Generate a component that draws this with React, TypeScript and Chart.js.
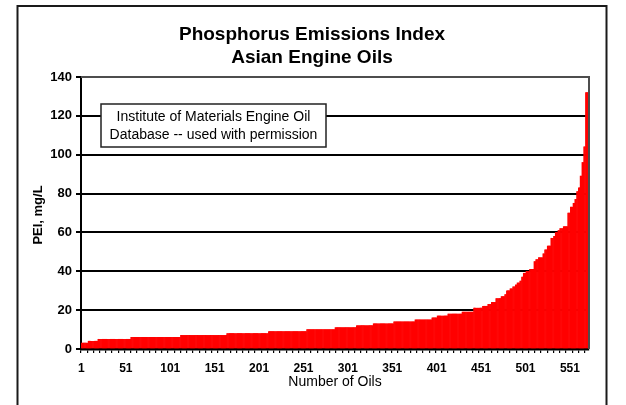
import React, { useEffect, useRef } from 'react';
import { Chart, registerables } from 'chart.js';

Chart.register(...registerables);

const FONT = '"Liberation Sans", Arial, Helvetica, sans-serif';

const titleLines = ['Phosphorus Emissions Index', 'Asian Engine Oils'];
const noteLines = ['Institute of Materials Engine Oil', 'Database -- used with permission'];
const xAxisTitle = 'Number of Oils';
const yAxisTitle = 'PEI, mg/L';

const peiLevels = [
  3, 4, 5, 6, 7, 8, 9, 10, 11, 12, 13, 14, 15, 16, 17, 18, 19,
  21, 22, 23, 24, 26, 27, 28, 30, 31, 32, 33, 34, 35, 37, 39, 40, 41,
  45, 46, 47, 49, 51, 53, 57, 58, 60, 61, 62, 63,
  70, 73, 75, 77, 81, 83, 89, 96, 104, 132,
];
const peiCounts = [
  8, 11, 37, 56, 52, 47, 43, 32, 24, 19, 23, 24, 19, 6, 12, 16, 13,
  10, 6, 4, 5, 6, 4, 2, 4, 3, 3, 2, 3, 2, 2, 3, 4, 5,
  2, 3, 5, 2, 3, 4, 3, 2, 3, 2, 4, 5,
  3, 3, 2, 2, 2, 2, 2, 2, 2, 4,
];

const yMin = 0;
const yMax = 140;
const yStep = 20;
const labelEvery = 50;
const tickEvery = 7;

const peiValues: number[] = [];
peiLevels.forEach((v, i) => {
  for (let k = 0; k < peiCounts[i]; k++) peiValues.push(v);
});
const oilLabels = peiValues.map((_, i) => String(i + 1));

const decorPlugin = {
  id: 'decor',
  beforeDraw(chart: any) {
    const ctx = chart.ctx;
    ctx.save();
    ctx.fillStyle = '#ffffff';
    ctx.fillRect(0, 0, chart.width, chart.height);
    ctx.strokeStyle = '#1a1a1a';
    ctx.lineWidth = 2;
    ctx.strokeRect(17.5, 6, 589, 470);
    ctx.restore();
  },
  afterDraw(chart: any) {
    const ctx = chart.ctx;
    const a = chart.chartArea;
    ctx.save();
    // top and right frame of plot area
    ctx.strokeStyle = '#4d4d4d';
    ctx.lineWidth = 2;
    ctx.beginPath();
    ctx.moveTo(a.left, a.top);
    ctx.lineTo(a.right, a.top);
    ctx.lineTo(a.right, a.bottom);
    ctx.stroke();

    // chart title
    ctx.fillStyle = '#000';
    ctx.textAlign = 'center';
    ctx.textBaseline = 'alphabetic';
    ctx.font = `bold 19px ${FONT}`;
    ctx.fillText(titleLines[0], 312, 39.5);
    ctx.fillText(titleLines[1], 312, 63);

    // note box
    ctx.fillStyle = '#fff';
    ctx.fillRect(101, 104, 225, 43);
    ctx.strokeStyle = '#222';
    ctx.lineWidth = 1.5;
    ctx.strokeRect(101, 104, 225, 43);
    ctx.fillStyle = '#000';
    ctx.font = `14px ${FONT}`;
    ctx.fillText(noteLines[0], 213.5, 121);
    ctx.fillText(noteLines[1], 213.5, 139);

    // axis titles
    ctx.font = `14px ${FONT}`;
    ctx.fillText(xAxisTitle, (a.left + a.right) / 2, 386);
    ctx.save();
    ctx.translate(42, 215);
    ctx.rotate(-Math.PI / 2);
    ctx.font = `bold 13px ${FONT}`;
    ctx.fillText(yAxisTitle, 0, 0);
    ctx.restore();
    ctx.restore();
  },
};

export default function App() {
  const ref = useRef<HTMLCanvasElement | null>(null);

  useEffect(() => {
    if (!ref.current) return;
    const chart = new Chart(ref.current, {
      type: 'bar',
      data: {
        labels: oilLabels,
        datasets: [
          {
            data: peiValues,
            backgroundColor: '#ff0000',
            borderWidth: 0,
            barPercentage: 1,
            categoryPercentage: 1,
          },
        ],
      },
      options: {
        animation: false,
        responsive: false,
        devicePixelRatio: 1,
        layout: { padding: { left: 0, right: 37, top: 77, bottom: 0 } },
        plugins: {
          legend: { display: false },
          tooltip: { enabled: false },
          title: { display: false },
        },
        scales: {
          x: {
            type: 'category',
            z: 1,
            offset: true,
            afterFit: (s: any) => {
              s.height = 56;
            },
            border: { display: true, color: '#000', width: 2.5 },
            grid: {
              offset: true,
              drawOnChartArea: false,
              drawTicks: true,
              tickLength: 4,
              lineWidth: 1.2,
              color: (c: any) => (c.index % tickEvery === 0 ? '#000' : 'rgba(0,0,0,0)'),
            },
            ticks: {
              autoSkip: false,
              maxRotation: 0,
              minRotation: 0,
              padding: 8,
              color: '#000',
              font: { family: FONT, size: 12, weight: 'bold' },
              callback: (_v: any, i: number) => (i % labelEvery === 0 ? oilLabels[i] : ''),
            },
          },
          y: {
            min: yMin,
            max: yMax,
            afterFit: (s: any) => {
              s.width = 81;
            },
            border: { display: true, color: '#000', width: 2 },
            grid: {
              color: (c: any) => (c.tick && c.tick.value === yMax ? 'rgba(0,0,0,0)' : '#000'),
              lineWidth: 2,
              tickLength: 5,
              tickColor: '#000',
            },
            ticks: {
              stepSize: yStep,
              padding: 4,
              color: '#000',
              font: { family: FONT, size: 13, weight: 'bold' },
            },
          },
        },
      },
      plugins: [decorPlugin],
    });
    return () => chart.destroy();
  }, []);

  return (
    <div style={{ position: 'absolute', left: 0, top: 0, width: 626, height: 405 }}>
      <canvas ref={ref} width={626} height={405} style={{ width: 626, height: 405 }} />
    </div>
  );
}
